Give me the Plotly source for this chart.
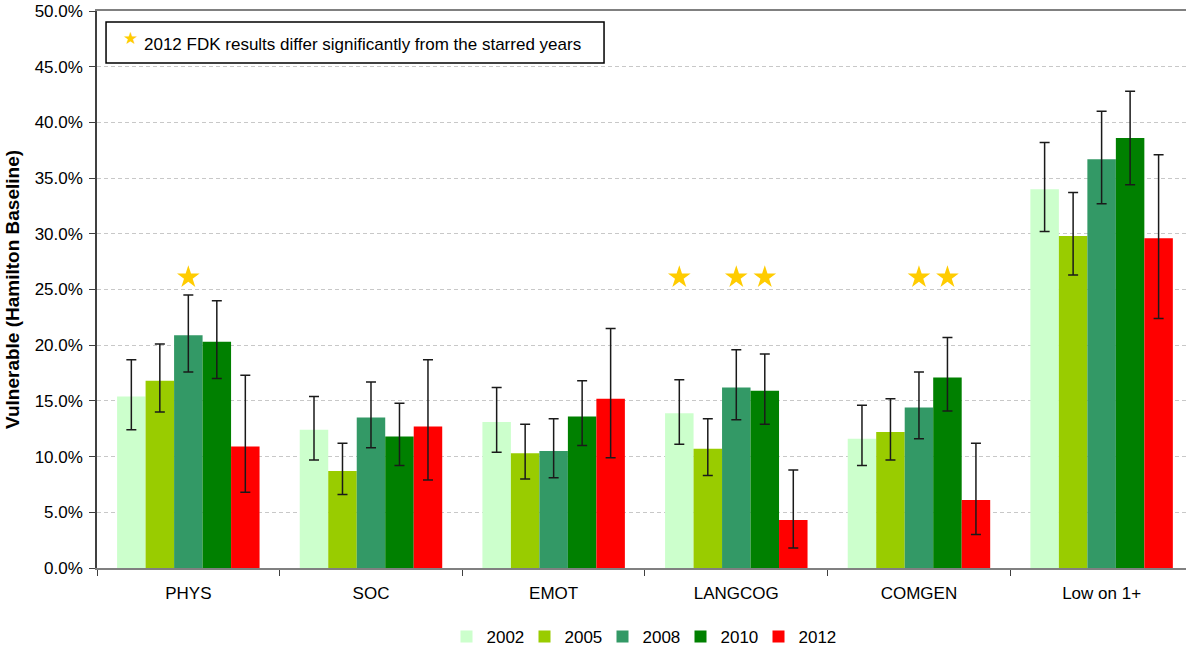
import plotly.graph_objects as go

categories = ["PHYS", "SOC", "EMOT", "LANGCOG", "COMGEN", "Low on 1+"]
years = ["2002", "2005", "2008", "2010", "2012"]
colors = ["#CCFFCC", "#99CC00", "#339966", "#008000", "#FF0000"]

# values in percent
v2002 = [15.4, 12.4, 13.1, 13.9, 11.6, 34.0]
v2005 = [16.8, 8.7, 10.3, 10.7, 12.2, 29.8]
v2008 = [20.9, 13.5, 10.5, 16.2, 14.4, 36.7]
v2010 = [20.3, 11.8, 13.6, 15.9, 17.1, 38.6]
v2012 = [10.9, 12.7, 15.2, 4.3, 6.1, 29.6]

hi2002 = [18.7, 15.4, 16.2, 16.9, 14.6, 38.2]
hi2005 = [20.1, 11.2, 12.9, 13.4, 15.2, 33.7]
hi2008 = [24.5, 16.7, 13.4, 19.6, 17.6, 41.0]
hi2010 = [24.0, 14.8, 16.8, 19.2, 20.7, 42.8]
hi2012 = [17.3, 18.7, 21.5, 8.8, 11.2, 37.1]

lo2002 = [12.4, 9.7, 10.4, 11.1, 9.2, 30.2]
lo2005 = [14.0, 6.6, 8.0, 8.3, 9.7, 26.3]
lo2008 = [17.6, 10.8, 8.1, 13.3, 11.6, 32.7]
lo2010 = [17.0, 9.2, 11.0, 12.9, 14.1, 34.4]
lo2012 = [6.8, 7.9, 9.9, 1.8, 3.0, 22.4]

# starred (category, year)
starred = [("PHYS", "2008"), ("LANGCOG", "2002"), ("LANGCOG", "2008"),
           ("LANGCOG", "2010"), ("COMGEN", "2008"), ("COMGEN", "2010")]
star_level = 26.1

note_text = "2012 FDK results differ significantly from the starred years"
y_title = "Vulnerable (Hamilton Baseline)"

values = [v2002, v2005, v2008, v2010, v2012]
highs = [hi2002, hi2005, hi2008, hi2010, hi2012]
lows = [lo2002, lo2005, lo2008, lo2010, lo2012]

FONT = "Arial, Liberation Sans, sans-serif"
bargap = 0.22
bar_w = (1 - bargap) / len(years)

fig = go.Figure()
xpos = list(range(len(categories)))
for yr, col, v, hi, lo in zip(years, colors, values, highs, lows):
    fig.add_trace(go.Bar(
        name=yr, x=xpos, y=v, marker=dict(color=col, line=dict(width=0)),
        error_y=dict(type="data", symmetric=False,
                     array=[h - a for h, a in zip(hi, v)],
                     arrayminus=[a - l for l, a in zip(lo, v)],
                     color="#1a1a1a", thickness=1.5, width=5),
    ))

sx = [categories.index(c) + (years.index(y) - 2) * bar_w for c, y in starred]
fig.add_trace(go.Scatter(
    x=sx, y=[star_level] * len(sx), mode="markers", showlegend=False,
    marker=dict(symbol="star", size=17, color="#FFCC00", line=dict(width=0)),
    hoverinfo="skip"))

fig.update_layout(
    width=1186, height=647,
    margin=dict(l=97, r=0, t=11, b=79, autoexpand=False),
    barmode="group", bargap=bargap, bargroupgap=0,
    plot_bgcolor="white", paper_bgcolor="white",
    font=dict(family=FONT, size=17, color="#000000"),
    legend=dict(orientation="h", x=0.5, xanchor="center",
                yref="container", y=(647 - 637) / 647, yanchor="middle",
                font=dict(size=17), itemwidth=30, traceorder="normal",
                entrywidth=33, entrywidthmode="pixels"),
    xaxis=dict(range=[-0.5, 5.462], tickvals=xpos, ticktext=categories,
               showgrid=False, zeroline=False, showline=True, linecolor="#808080",
               linewidth=1.5, mirror=True, ticks="", tickfont=dict(size=17),
               ticklabelstandoff=9, automargin=False,
               minor=dict(tick0=0.5, dtick=1, ticks="outside", ticklen=6,
                          tickcolor="#404040", showgrid=False)),
    yaxis=dict(range=[0, 50], dtick=5, ticksuffix="%", tickformat=".1f",
               showgrid=True, gridcolor="#C8C8C8", griddash="4px,3px", gridwidth=1,
               zeroline=False, showline=True, linecolor="#404040", linewidth=1.5,
               ticks="outside", ticklen=6, tickcolor="#404040",
               tickfont=dict(size=17), ticklabelstandoff=3, automargin=False,
               title=dict(text="<b>" + y_title + "</b>", font=dict(size=19), standoff=10)),
    shapes=[dict(type="rect", xref="paper", yref="paper",
                 x0=0.0083, x1=0.4656, y0=0.9066, y1=0.9803,
                 line=dict(color="#000000", width=1.5), fillcolor="white", layer="above")],
    annotations=[
        dict(xref="paper", yref="paper", x=(142 - 97) / 1089, y=(568 - 44) / 557,
             xanchor="left", yanchor="middle", showarrow=False,
             text=note_text, font=dict(size=17, family=FONT)),
        dict(xref="paper", yref="paper", x=(130 - 97) / 1089, y=(568 - 38) / 557,
             xanchor="center", yanchor="middle", showarrow=False,
             text="★", font=dict(size=17, color="#FFCC00", family="DejaVu Sans")),
    ],
)

fig.write_html("out.html")
